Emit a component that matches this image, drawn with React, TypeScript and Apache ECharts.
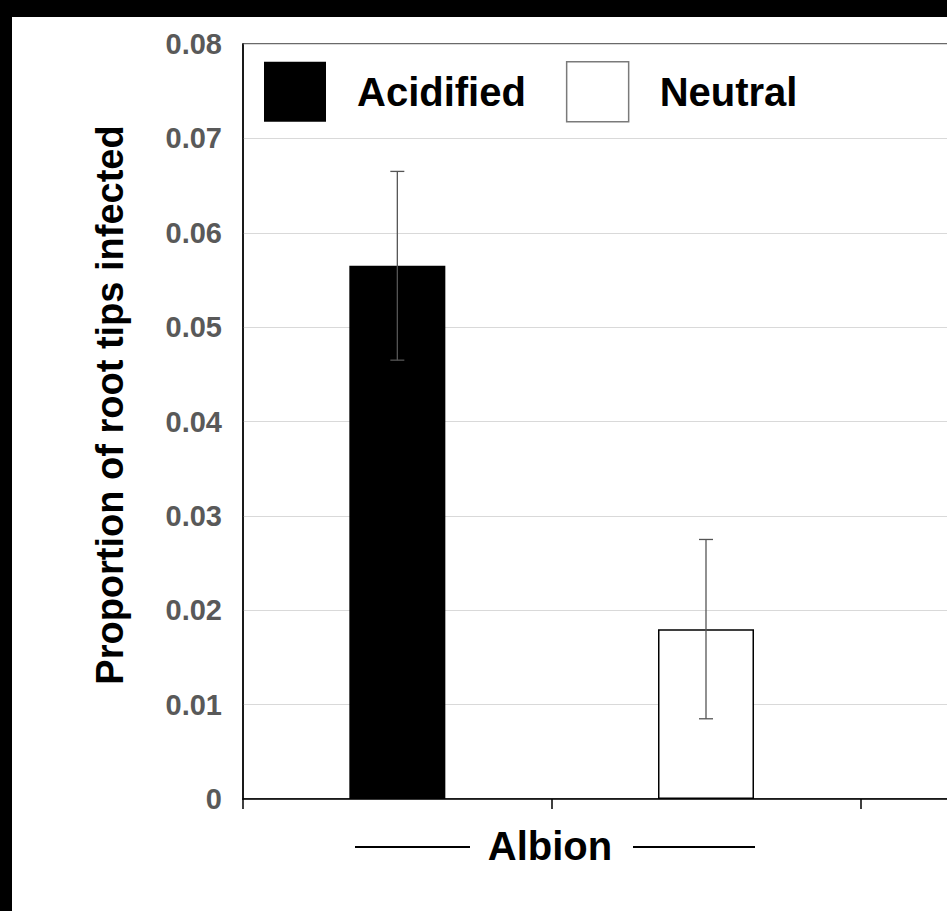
import React, { useEffect, useRef } from "react";
import * as echarts from "echarts";

// ---- data ----
const categories = ["Albion Acidified", "Albion Neutral", ""];
const seriesNames = ["Acidified", "Neutral"];
const acidifiedValues = [0.0565, null, null];
const neutralValues = [null, 0.018, null];
// standard errors (half-width of error bars)
const acidifiedErr = [0.01, null, null];
const neutralErr = [null, 0.0095, null];
const yTicks = { min: 0, max: 0.08, interval: 0.01 };
const groupLabel = "Albion";
const yTitle = "Proportion of root tips infected";

const FONT = "'Liberation Sans', Arial, sans-serif";

export default function App() {
  const ref = useRef<HTMLDivElement>(null);
  useEffect(() => {
    if (!ref.current) return;
    const chart = echarts.init(ref.current, undefined, { renderer: "svg" });

    const errData: any[] = [];
    acidifiedValues.forEach((v, i) => {
      if (v != null && acidifiedErr[i] != null)
        errData.push([i, v - (acidifiedErr[i] as number), v + (acidifiedErr[i] as number)]);
    });
    neutralValues.forEach((v, i) => {
      if (v != null && neutralErr[i] != null)
        errData.push([i, v - (neutralErr[i] as number), v + (neutralErr[i] as number)]);
    });

    const option: any = {
      animation: false,
      backgroundColor: "#ffffff",
      grid: {
        left: 243,
        top: 44,
        bottom: 112,
        right: -222,
        show: true,
        borderColor: "#3a3a3a",
        borderWidth: 1.5,
        backgroundColor: "transparent",
        outerBoundsMode: "none",
        containLabel: false,
      },
      legend: {
        left: 264,
        top: 61,
        padding: 0,
        itemWidth: 62,
        itemHeight: 60,
        itemGap: 40,
        icon: "rect",
        data: [
          { name: seriesNames[0], itemStyle: { color: "#000000", borderWidth: 0 } },
          { name: seriesNames[1], itemStyle: { color: "#ffffff", borderColor: "#7a7a7a", borderWidth: 1.5 } },
        ],
        textStyle: {
          fontFamily: FONT,
          fontWeight: "bold",
          fontSize: 40,
          color: "#000000",
          padding: [0, 0, 0, 26],
        },
      },
      xAxis: {
        type: "category",
        data: categories,
        axisLine: { lineStyle: { color: "#000000", width: 1.5 } },
        axisTick: { show: true, length: 10, lineStyle: { color: "#000000", width: 1.5 } },
        axisLabel: { show: false },
        splitLine: { show: false },
      },
      yAxis: {
        type: "value",
        min: yTicks.min,
        max: yTicks.max,
        interval: yTicks.interval,
        axisLine: { show: true, lineStyle: { color: "#000000", width: 1.5 } },
        axisTick: { show: false },
        splitLine: { show: true, lineStyle: { color: "#d9d9d9", width: 1 } },
        axisLabel: {
          margin: 21,
          fontFamily: FONT,
          fontWeight: "bold",
          fontSize: 29,
          color: "#595959",
          formatter: (v: number) => (v === 0 ? "0" : v.toFixed(2)),
        },
      },
      series: [
        {
          name: seriesNames[0],
          type: "bar",
          stack: "s",
          data: acidifiedValues,
          barWidth: 96,
          itemStyle: { color: "#000000" },
        },
        {
          name: seriesNames[1],
          type: "bar",
          stack: "s",
          data: neutralValues,
          barWidth: 96,
          itemStyle: { color: "#ffffff", borderColor: "#000000", borderWidth: 1.5 },
        },
        {
          type: "custom",
          data: errData,
          z: 10,
          renderItem: (params: any, api: any) => {
            const x = api.value(0);
            const lo = api.coord([x, api.value(1)]);
            const hi = api.coord([x, api.value(2)]);
            const cap = 7;
            const style = { stroke: "#555555", lineWidth: 1.3 };
            return {
              type: "group",
              children: [
                { type: "line", shape: { x1: hi[0], y1: hi[1], x2: lo[0], y2: lo[1] }, style },
                { type: "line", shape: { x1: hi[0] - cap, y1: hi[1], x2: hi[0] + cap, y2: hi[1] }, style },
                { type: "line", shape: { x1: lo[0] - cap, y1: lo[1], x2: lo[0] + cap, y2: lo[1] }, style },
              ],
            };
          },
        },
      ],
      graphic: [
        {
          type: "text",
          x: 110,
          y: 405,
          rotation: Math.PI / 2,
          style: {
            text: yTitle,
            fontFamily: FONT,
            fontWeight: "bold",
            fontSize: 38,
            fill: "#000000",
            align: "center",
            verticalAlign: "middle",
          },
        },
        {
          type: "text",
          x: 550,
          y: 846,
          style: {
            text: groupLabel,
            fontFamily: FONT,
            fontWeight: "bold",
            fontSize: 40,
            fill: "#000000",
            align: "center",
            verticalAlign: "middle",
          },
        },
        { type: "line", shape: { x1: 355, y1: 847, x2: 470, y2: 847 }, style: { stroke: "#000", lineWidth: 2 } },
        { type: "line", shape: { x1: 633, y1: 847, x2: 755, y2: 847 }, style: { stroke: "#000", lineWidth: 2 } },
        { type: "rect", shape: { x: 0, y: 0, width: 947, height: 17 }, style: { fill: "#000" }, z: 100 },
        { type: "rect", shape: { x: 0, y: 0, width: 12, height: 911 }, style: { fill: "#000" }, z: 100 },
      ],
    };
    chart.setOption(option);
    return () => chart.dispose();
  }, []);
  return (
    <div
      ref={ref}
      style={{ position: "absolute", left: 0, top: 0, width: 947, height: 911, background: "#fff" }}
    />
  );
}
